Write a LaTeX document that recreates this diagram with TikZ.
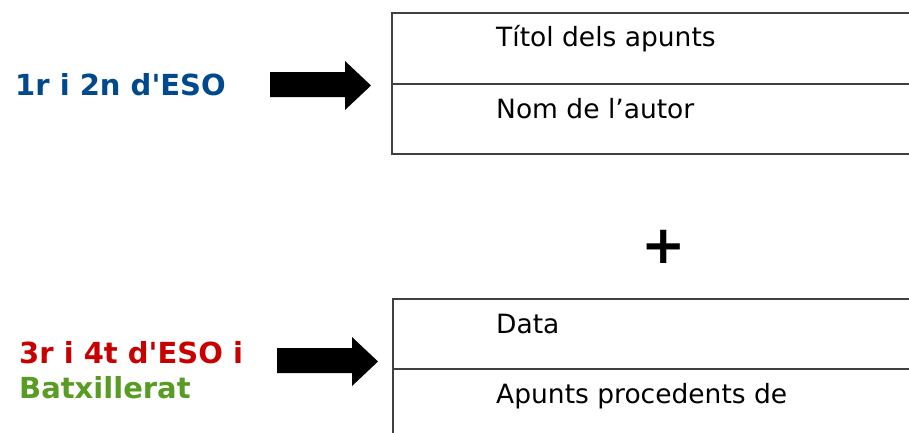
\documentclass[tikz,border=0pt]{standalone}
\usepackage{fontspec}
\setmainfont[Ligatures=TeXOff]{DejaVu Sans}
\definecolor{esoblue}{RGB}{0,73,140}
\definecolor{esored}{RGB}{200,0,0}
\definecolor{esogreen}{RGB}{88,156,36}
\definecolor{boxline}{RGB}{64,64,64}
\begin{document}
\begin{tikzpicture}[x=1pt,y=-1pt,
  cell/.style={draw=boxline,line width=1.1pt},
  celltext/.style={anchor=base west,inner sep=0pt,font=\fontsize{26.5}{30}\selectfont},
  lefttext/.style={anchor=base west,inner sep=0pt,font=\fontsize{29}{32}\selectfont\bfseries},
  bigarrow/.style={fill=black}]
\useasboundingbox (0,0) rectangle (909,432);
% boxes
\draw[cell] (392,13) rectangle (940,154);
\draw[cell] (392,84) -- (940,84);
\draw[cell] (393,299) rectangle (940,460);
\draw[cell] (393,369) -- (940,369);
% cell texts
\node[celltext] (t1) at (496,46) {Títol dels apunts};
\node[celltext] (t2) at (496,118) {Nom de l’autor};
\node[celltext] (t3) at (496,333) {Data};
\node[celltext] (t4) at (496,403) {Apunts procedents de};
% left labels
\node[lefttext,text=esoblue] (l1) at (15,95) {1r i 2n d'ESO};
\node[lefttext,text=esored] (l2) at (19,363) {3r i 4t d'ESO i};
\node[lefttext,text=esogreen] (l3) at (19,398) {Batxillerat};
% arrows
\fill[bigarrow] (270,72) -- (345,72) -- (345,61) -- (371,85.5) -- (345,110) -- (345,97) -- (270,97) -- cycle;
\fill[bigarrow] (277,348) -- (352,348) -- (352,337) -- (378,361.5) -- (352,386) -- (352,373) -- (277,373) -- cycle;
% plus
\node[inner sep=0pt,font=\fontsize{53}{60}\selectfont\bfseries] (plus) at (663.5,246.5) {+};
\end{tikzpicture}
\end{document}
